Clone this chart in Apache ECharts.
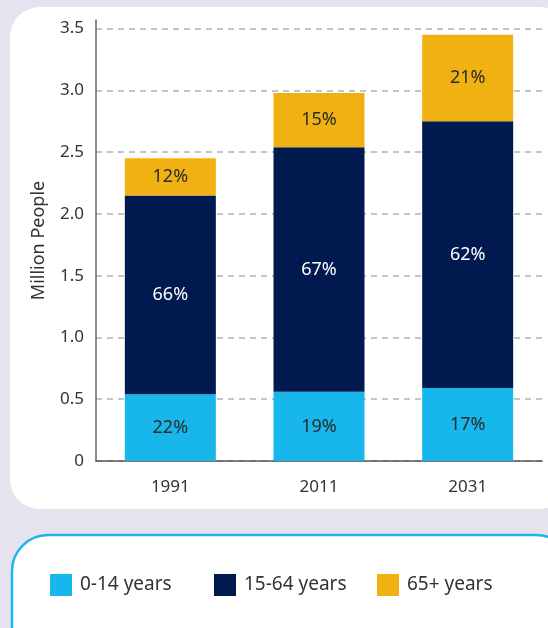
<!DOCTYPE html>
<html>
<head>
<meta charset="utf-8">
<title>Population by age group</title>
<script src="https://cdn.jsdelivr.net/npm/echarts@6/dist/echarts.min.js"></script>
<style>
  html, body { margin: 0; padding: 0; background: #e6e3ee; }
  #chart { width: 548px; height: 628px; }
</style>
</head>
<body>
<div id="chart"></div>
<script>
// Census years on the category axis
const years = ['1991', '2011', '2031'];

// Population (million people) per age group, stacked
const ages0to14 = [0.54, 0.56, 0.59];
const ages15to64 = [1.61, 1.98, 2.16];
const ages65plus = [0.30, 0.44, 0.70];

// Published share of the total for each age group
const share0to14 = ['22%', '19%', '17%'];
const share15to64 = ['66%', '67%', '62%'];
const share65plus = ['12%', '15%', '21%'];

// Series names shown in the legend
const groupNames = ['0-14 years', '15-64 years', '65+ years'];

const FONT = 'Noto Sans';
const colors = ['#17b7eb', '#001a4f', '#f0b113'];

const chart = echarts.init(document.getElementById('chart'));

function barSeries(name, values, shares, color, labelColor) {
  return {
    name: name,
    type: 'bar',
    stack: 'total',
    barWidth: 91,
    data: values,
    itemStyle: { color: color },
    label: {
      show: true,
      position: 'inside',
      formatter: (p) => shares[p.dataIndex],
      color: labelColor,
      fontFamily: FONT,
      fontSize: 18
    },
    emphasis: { disabled: true }
  };
}

function legendItem(name, left) {
  return {
    data: [name],
    left: left,
    top: 569,
    icon: 'rect',
    itemWidth: 22,
    itemHeight: 22,
    selectedMode: false,
    textStyle: { fontFamily: FONT, fontSize: 19, color: '#333', padding: [0, 0, 0, 3] }
  };
}

chart.setOption({
  backgroundColor: '#e6e3ee',
  animation: false,
  color: colors,
  graphic: [
    {
      type: 'rect', z: -10,
      shape: { x: 10, y: 7, width: 560, height: 502, r: 30 },
      style: { fill: '#ffffff' }
    },
    {
      type: 'rect', z: -10,
      shape: { x: 12, y: 535, width: 560, height: 130, r: 36 },
      style: { fill: '#ffffff', stroke: '#1ab6ea', lineWidth: 2.5 }
    }
  ],
  legend: [
    legendItem(groupNames[0], 45),
    legendItem(groupNames[1], 209),
    legendItem(groupNames[2], 372)
  ],
  grid: { left: 96, right: 6, top: 20, bottom: 167 },
  xAxis: {
    type: 'category',
    data: years,
    axisLine: { lineStyle: { color: '#555', width: 1.5 } },
    axisTick: { show: false },
    axisLabel: { fontFamily: FONT, fontSize: 17, color: '#333', margin: 18 }
  },
  yAxis: {
    type: 'value',
    min: 0,
    max: 3.57,
    interval: 0.5,
    name: 'Million People',
    nameLocation: 'middle',
    nameGap: 48,
    nameTextStyle: { fontFamily: FONT, fontSize: 18, color: '#333' },
    axisLine: { show: true, lineStyle: { color: '#666', width: 1.5 } },
    axisTick: { show: false },
    axisLabel: {
      fontFamily: FONT, fontSize: 17, color: '#333', margin: 12,
      showMaxLabel: false,
      formatter: (v) => (v === 0 ? '0' : v.toFixed(1))
    },
    splitLine: {
      showMaxLine: false,
      lineStyle: { color: '#b3b3b3', type: [6, 5], width: 1.5 }
    }
  },
  series: [
    barSeries(groupNames[0], ages0to14, share0to14, colors[0], '#2b2b2b'),
    barSeries(groupNames[1], ages15to64, share15to64, colors[1], '#ffffff'),
    barSeries(groupNames[2], ages65plus, share65plus, colors[2], '#2b2b2b')
  ]
});
</script>
</body>
</html>
